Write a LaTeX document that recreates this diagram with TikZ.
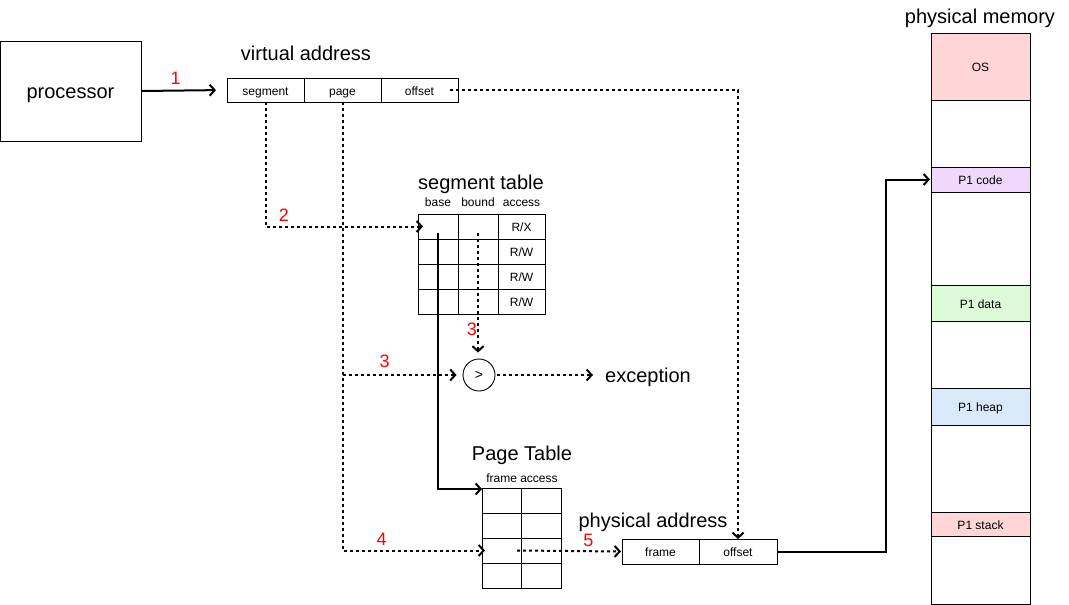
\documentclass[tikz,border=0pt]{standalone}
\usepackage{fontspec}
\setmainfont{Liberation Sans}
\usetikzlibrary{arrows.meta,positioning}
\definecolor{oscol}{RGB}{255,214,214}
\definecolor{codecol}{RGB}{240,216,253}
\definecolor{datacol}{RGB}{220,250,214}
\definecolor{heapcol}{RGB}{218,232,252}

\begin{document}
\begin{tikzpicture}[x=1pt,y=-1pt,node distance=0pt,
  big/.style={font=\fontsize{20}{24}\selectfont,inner sep=0pt,text height=18pt,text depth=3pt},
  small/.style={font=\fontsize{12}{14}\selectfont,text height=11pt,text depth=1pt},
  num/.style={font=\fontsize{18}{20}\selectfont,text=red,inner sep=1pt},
  cell/.style={draw,line width=0.9pt,minimum height=25pt,inner sep=0pt,outer sep=0pt,small},
  mem/.style={cell,minimum width=99pt},
  flow/.style={line width=2pt,-{Straight Barb[length=5pt,width=11pt]}},
  dots/.style={flow,dash pattern=on 3pt off 3pt}]
\useasboundingbox (0,0) rectangle (1069,605);

% processor and virtual address
\node[draw,line width=0.9pt,minimum width=141pt,minimum height=100pt,big] (proc) at (70.5,91) {processor};
\node[big] (vtitle) at (306,53) {virtual address};
\node[cell,minimum width=77pt,minimum height=24pt] (vseg) at (265.5,90) {segment};
\node[cell,minimum width=77pt,minimum height=24pt,right=of vseg] (vpage) {page};
\node[cell,minimum width=77pt,minimum height=24pt,right=of vpage] (voff) {offset};
\draw[flow,shorten >=11pt] (proc.east) -- node[num,pos=0.4,above=4pt]{1} (vseg.west);

% segment table
\node[big] (stitle) at (481,182) {segment table};
\node[small,inner sep=0pt] (hbase) at (438,201) {base};
\node[small,inner sep=0pt] (hbound) at (478,201) {bound};
\node[small,inner sep=0pt] (hacc) at (521.5,201) {access};
\foreach \r [count=\i] in {R/X,R/W,R/W,R/W} {
  \node[cell,minimum width=40pt] (sbase\i) at (438,201.5+25*\i) {};
  \node[cell,minimum width=40pt,right=of sbase\i] (sbound\i) {};
  \node[cell,minimum width=47pt,right=of sbound\i] (sacc\i) {\r};
}
\draw[dots,shorten >=-5pt] (vseg.south) |- node[num,pos=0.56,above=3pt]{2} (sbase1.west);

% comparator
\node[draw,circle,line width=0.9pt,minimum size=32pt,inner sep=0pt,font=\fontsize{14}{16}\selectfont] (cmp) at (479,375) {>};
\node[big] (exc) at (648,375) {exception};
\draw[dots,shorten >=6pt] ([yshift=-6pt]sbound1.center) -- node[num,pos=0.77,left=-1pt]{3} (sbound1.center |- cmp.north);
\draw[dots,shorten >=6pt] (vpage.south |- cmp.west) -- node[num,pos=0.35,above=5pt]{3} (cmp.west);
\draw[dots,shorten <=2pt,shorten >=12pt] (cmp.east) -- (exc.west);

% page table
\node[big] (ptitle) at (522,453) {Page Table};
\node[small,inner sep=0pt] (phead) at (522,477) {frame access};
\foreach \i in {1,...,4} {
  \node[cell,minimum width=39pt] (pf\i) at (501.5,475.5+25*\i) {};
  \node[cell,minimum width=40pt,right=of pf\i] (pa\i) {};
}
\draw[flow] ([yshift=-6pt]sbase1.center) |- ([yshift=-1pt]pf1.north west);
\draw[dots,shorten >=-3pt] (vpage.south) |- node[num,pos=0.64,above=3pt]{4} (pf3.west);

% physical address
\node[big] (phtitle) at (653,520) {physical address};
\node[cell,minimum width=77pt] (phframe) at (660.5,551.5) {frame};
\node[cell,minimum width=78pt,right=of phframe] (phoff) {offset};
\draw[dots,shorten >=1pt] ([xshift=-4pt]pf3.east) -- node[num,pos=0.68,above=3pt]{5} (phframe.west);
\draw[dots] ([xshift=-8pt]voff.east) -| (phoff.north);

% physical memory
\node[big] (mtitle) at (980,16) {physical memory};
\node[mem,minimum height=67pt,fill=oscol] (os) at (980.5,66.5) {OS};
\node[mem,minimum height=67pt,below=of os] (gap1) {};
\node[mem,minimum height=25pt,fill=codecol,below=of gap1] (code) {P1 code};
\node[mem,minimum height=93pt,below=of code] (gap2) {};
\node[mem,minimum height=36pt,fill=datacol,below=of gap2] (data) {P1 data};
\node[mem,minimum height=67pt,below=of data] (gap3) {};
\node[mem,minimum height=37pt,fill=heapcol,below=of gap3] (heap) {P1 heap};
\node[mem,minimum height=87pt,below=of heap] (gap4) {};
\node[mem,minimum height=24pt,fill=oscol,below=of gap4] (stack) {P1 stack};
\node[mem,minimum height=68pt,below=of stack] (gap5) {};
\draw[flow,shorten >=1pt] (phoff.east) -- ++(109,0) |- (code.west);
\end{tikzpicture}
\end{document}
